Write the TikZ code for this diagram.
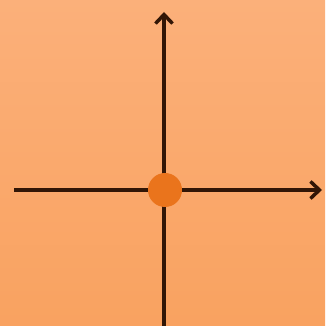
\documentclass[tikz,border=0pt]{standalone}
\usepackage{xcolor}
\usetikzlibrary{arrows.meta}

\definecolor{bgtop}{RGB}{251,176,122}
\definecolor{bgbot}{RGB}{249,162,96}
\definecolor{axisbrown}{RGB}{50,22,6}
\definecolor{dotorange}{RGB}{234,116,28}

\begin{document}
\begin{tikzpicture}[
  x=1pt, y=1pt,
  axis/.style={draw=axisbrown, line width=4.5pt, -{Straight Barb[length=9pt, width=17pt, line width=3.5pt]}},
  dot/.style={circle, fill=dotorange, inner sep=0pt, minimum size=34pt}
]
  % background
  \shade[top color=bgtop, bottom color=bgbot] (0,0) rectangle (325,326);
  \useasboundingbox (0,0) rectangle (325,326);

  \coordinate (xl) at (14,136);
  \coordinate (xr) at (322,136);
  \coordinate (yb) at (164,-2);
  \coordinate (yt) at (164,314);

  \draw[axis] (xl) -- (xr);
  \draw[axis] (yb) -- (yt);
  \node[dot] (origin) at (165,136) {};
\end{tikzpicture}
\end{document}
